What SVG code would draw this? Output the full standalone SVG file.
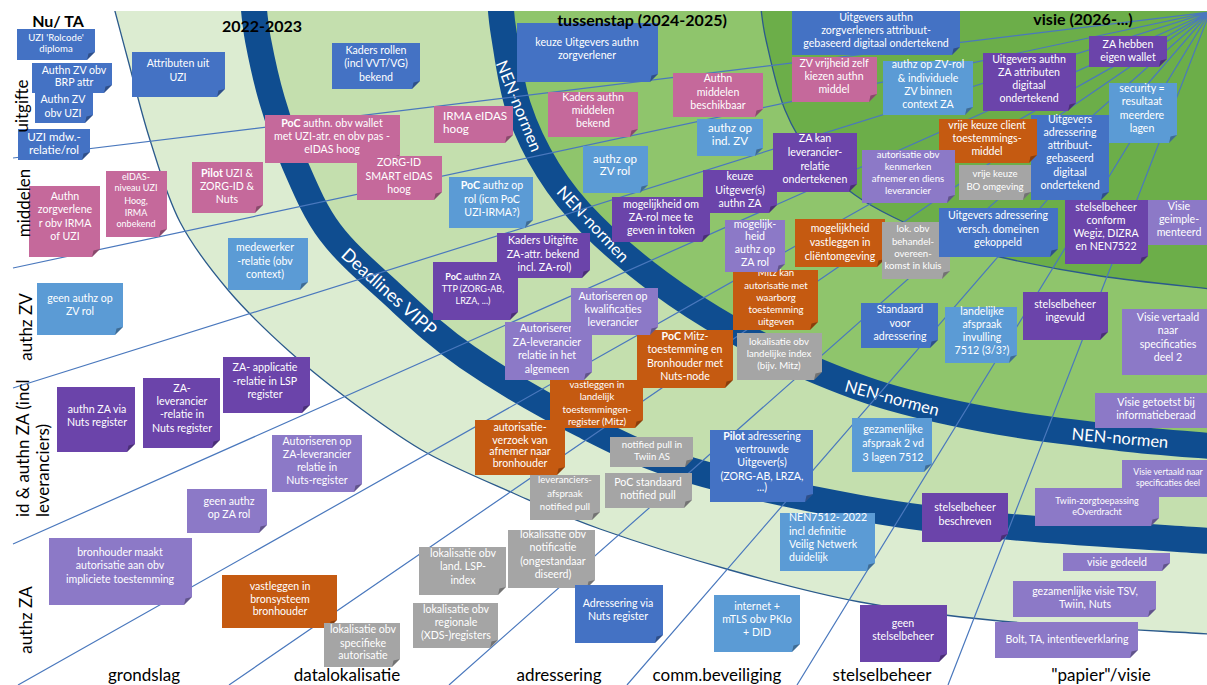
<svg xmlns="http://www.w3.org/2000/svg" width="1207" height="685" viewBox="0 0 1207 685">
<defs><style>
.t{font-family:Lato,"Liberation Sans",sans-serif;font-size:10.6px;fill:#fff;text-anchor:middle}
.sm{font-size:9.6px}.xs{font-size:9px}.lg{font-size:11.6px}
.st{text-anchor:start}
.b{font-weight:bold}
.c1{fill:#4472c4}.c2{fill:#5b9bd5}.c3{fill:#c5699b}.c4{fill:#6b44aa}.c5{fill:#8c79c7}.c6{fill:#c55a11}.c7{fill:#a5a5a5}
.fd{fill:#000;fill-opacity:.3}
.rl{fill:none;stroke:#4a78bd;stroke-width:1.2}
.band{fill:none;stroke:#0f4d90;stroke-width:26}
.edge{fill:none;stroke:#2b5a8c;stroke-width:1.3}
.lbl{font-family:Lato,"Liberation Sans",sans-serif;fill:#000}
.hd{font-weight:bold;font-size:16px;text-anchor:middle}
.ax{font-size:17px;text-anchor:middle}
.bl{font-family:Lato,"Liberation Sans",sans-serif;fill:#fff;font-size:16.5px;text-anchor:middle}
</style></defs>
<rect width="1207" height="685" fill="#fff"/>
<g id="background">
<path fill="#dcecd1" d="M112,0 C114.7,10 121.7,36.7 128,60 C134.3,83.3 141.3,113 150,140 C158.7,167 167,197 180,222 C193,247 209.7,268.3 228,290 C246.3,311.7 268,332.3 290,352 C312,371.7 337.2,391.2 360,408 C382.8,424.8 401.5,438.8 427,453 C452.5,467.2 484.2,480.3 513,493 C541.8,505.7 563.8,516.2 600,529 C636.2,541.8 686.7,557.8 730,570 C773.3,582.2 815,593.5 860,602 C905,610.5 941.7,615.7 1000,621 C1058.3,626.3 1175,631.8 1210,634 L1210,0Z"/>
<path fill="#c4dfae" d="M253,0 C253.8,6.7 254.8,23.3 258,40 C261.2,56.7 265.8,79.2 272,100 C278.2,120.8 285.3,143 295,165 C304.7,187 314.2,210.8 330,232 C345.8,253.2 367.2,271.2 390,292 C412.8,312.8 434.8,334.8 467,357 C499.2,379.2 545.8,406.2 583,425 C620.2,443.8 643.8,456.2 690,470 C736.2,483.8 808.3,498.7 860,508 C911.7,517.3 941.7,520.5 1000,526 C1058.3,531.5 1175,538.5 1210,541 L1210,0Z"/>
<path fill="#8fc56c" d="M500,0 C500.7,5.8 501,17.3 504,35 C507,52.7 510.7,83.5 518,106 C525.3,128.5 535.7,150.2 548,170 C560.3,189.8 573.3,206.2 592,225 C610.7,243.8 636.5,265.5 660,283 C683.5,300.5 708,315.8 733,330 C758,344.2 783.5,356.7 810,368 C836.5,379.3 860.3,389 892,398 C923.7,407 962,415.3 1000,422 C1038,428.7 1085,434 1120,438 C1155,442 1195,444.7 1210,446 L1210,0Z"/>
<path fill="#6cae49" d="M760,0 C761,6.7 761.8,21.7 766,40 C770.2,58.3 776.8,90 785,110 C793.2,130 803.3,145.8 815,160 C826.7,174.2 842,185.5 855,195 C868,204.5 877.2,209.2 893,217 C908.8,224.8 932.2,235.3 950,242 C967.8,248.7 975,251.3 1000,257 C1025,262.7 1065,270.7 1100,276 C1135,281.3 1191.7,286.8 1210,289 L1210,0Z"/>
<path class="edge" d="M112,0 C114.7,10 121.7,36.7 128,60 C134.3,83.3 141.3,113 150,140 C158.7,167 167,197 180,222 C193,247 209.7,268.3 228,290 C246.3,311.7 268,332.3 290,352 C312,371.7 337.2,391.2 360,408 C382.8,424.8 401.5,438.8 427,453 C452.5,467.2 484.2,480.3 513,493 C541.8,505.7 563.8,516.2 600,529 C636.2,541.8 686.7,557.8 730,570 C773.3,582.2 815,593.5 860,602 C905,610.5 941.7,615.7 1000,621 C1058.3,626.3 1175,631.8 1210,634"/>
<path class="edge" d="M760,0 C761,6.7 761.8,21.7 766,40 C770.2,58.3 776.8,90 785,110 C793.2,130 803.3,145.8 815,160 C826.7,174.2 842,185.5 855,195 C868,204.5 877.2,209.2 893,217 C908.8,224.8 932.2,235.3 950,242 C967.8,248.7 975,251.3 1000,257 C1025,262.7 1065,270.7 1100,276 C1135,281.3 1191.7,286.8 1210,289"/>
</g>
<g id="bands">
<path class="band" d="M253,0 C253.8,6.7 254.8,23.3 258,40 C261.2,56.7 265.8,79.2 272,100 C278.2,120.8 285.3,143 295,165 C304.7,187 314.2,210.8 330,232 C345.8,253.2 367.2,271.2 390,292 C412.8,312.8 434.8,334.8 467,357 C499.2,379.2 545.8,406.2 583,425 C620.2,443.8 643.8,456.2 690,470 C736.2,483.8 808.3,498.7 860,508 C911.7,517.3 941.7,520.5 1000,526 C1058.3,531.5 1175,538.5 1210,541"/>
<path class="band" d="M500,0 C500.7,5.8 501,17.3 504,35 C507,52.7 510.7,83.5 518,106 C525.3,128.5 535.7,150.2 548,170 C560.3,189.8 573.3,206.2 592,225 C610.7,243.8 636.5,265.5 660,283 C683.5,300.5 708,315.8 733,330 C758,344.2 783.5,356.7 810,368 C836.5,379.3 860.3,389 892,398 C923.7,407 962,415.3 1000,422 C1038,428.7 1085,434 1120,438 C1155,442 1195,444.7 1210,446"/>
<text class="bl" style="font-size:18px" transform="translate(389,292) rotate(42)" dy=".35em">Deadlines VIPP</text>
<text class="bl" transform="translate(519,106) rotate(68)" dy=".35em">NEN-normen</text>
<text class="bl" transform="translate(593,224) rotate(47)" dy=".35em">NEN-normen</text>
<text class="bl" transform="translate(892,398) rotate(15)" dy=".35em">NEN-normen</text>
<text class="bl" transform="translate(1120,438) rotate(5)" dy=".35em">NEN-normen</text>
</g>
<g id="connectors">
<path class="rl" d="M1210 12L13 158M1210 12L13 268M1210 12L13 388M1210 12L13 544M1210 12L18 685M1210 12L229 685M1210 12L449 685M1210 12L627 685M1210 12L797 685M1210 12L948 685"/>
</g>
<rect width="1207" height="11" fill="#fff"/>
<g id="n01"><path class="c1" d="M17 29h78v23l-8 8H17z"/><path class="fd" d="M95 52l-8 8 1.5-6.5z"/><text class="t sm"><tspan x="56" y="41">UZI 'Rolcode'</tspan><tspan x="56" y="52">diploma</tspan></text></g>
<g id="n02"><path class="c1" d="M32 63h80v22l-8 8H32z"/><path class="fd" d="M112 85l-8 8 1.5-6.5z"/><text class="t"><tspan x="74" y="74">Authn ZV obv</tspan><tspan x="74" y="86">BRP attr</tspan></text></g>
<g id="n03"><path class="c1" d="M35 92h58v23l-8 8H35z"/><path class="fd" d="M93 115l-8 8 1.5-6.5z"/><text class="t"><tspan x="63" y="103">Authn ZV</tspan><tspan x="63" y="117">obv UZI</tspan></text></g>
<g id="n04"><path class="c1" d="M18 129h72v23l-8 8H18z"/><path class="fd" d="M90 152l-8 8 1.5-6.5z"/><text class="t lg"><tspan x="54" y="141">UZI mdw.-</tspan><tspan x="54" y="154">relatie/rol</tspan></text></g>
<g id="n05"><path class="c1" d="M132 52h93v37l-8 8H132z"/><path class="fd" d="M225 89l-8 8 1.5-6.5z"/><text class="t"><tspan x="178" y="67">Attributen uit</tspan><tspan x="178" y="81">UZI</tspan></text></g>
<g id="n06"><path class="c3" d="M29 186h71v63l-8 8H29z"/><path class="fd" d="M100 249l-8 8 1.5-6.5z"/><text class="t"><tspan x="65" y="200">Authn</tspan><tspan x="65" y="213">zorgverlene</tspan><tspan x="65" y="227">r obv IRMA</tspan><tspan x="65" y="240">of UZI</tspan></text></g>
<g id="n07"><path class="c3" d="M106 171h61v58l-8 8H106z"/><path class="fd" d="M167 229l-8 8 1.5-6.5z"/><text class="t xs"><tspan x="136" y="180">eIDAS-</tspan><tspan x="136" y="191">niveau UZI</tspan><tspan x="136" y="204">Hoog,</tspan><tspan x="136" y="216">IRMA</tspan><tspan x="136" y="227">onbekend</tspan></text></g>
<g id="n08"><path class="c3" d="M192 162h71v43l-8 8H192z"/><path class="fd" d="M263 205l-8 8 1.5-6.5z"/><text class="t"><tspan x="227" y="177"><tspan class="b">Pilot</tspan> UZI &amp;</tspan><tspan x="227" y="190">ZORG-ID &amp;</tspan><tspan x="227" y="203">Nuts</tspan></text></g>
<g id="n09"><path class="c3" d="M265 115h135v40l-8 8H265z"/><path class="fd" d="M400 155l-8 8 1.5-6.5z"/><text class="t"><tspan x="332" y="127"><tspan class="b">PoC</tspan> authn. obv wallet</tspan><tspan x="332" y="140">met UZI-atr. en obv pas -</tspan><tspan x="332" y="153">eIDAS hoog</tspan></text></g>
<g id="n10"><path class="c1" d="M332 43h88v38l-8 8H332z"/><path class="fd" d="M420 81l-8 8 1.5-6.5z"/><text class="t"><tspan x="376" y="54">Kaders rollen</tspan><tspan x="376" y="67">(incl VVT/VG)</tspan><tspan x="376" y="81">bekend</tspan></text></g>
<g id="n11"><path class="c3" d="M434 106h79v29l-8 8H434z"/><path class="fd" d="M513 135l-8 8 1.5-6.5z"/><text class="t st" style="font-size:11.7px"><tspan x="443" y="120">IRMA eIDAS</tspan><tspan x="443" y="133">hoog</tspan></text></g>
<g id="n12"><path class="c3" d="M357 156h85v36l-8 8H357z"/><path class="fd" d="M442 192l-8 8 1.5-6.5z"/><text class="t"><tspan x="399" y="166">ZORG-ID</tspan><tspan x="399" y="180">SMART eIDAS</tspan><tspan x="399" y="193">hoog</tspan></text></g>
<g id="n13"><path class="c2" d="M449 177h84v43l-8 8H449z"/><path class="fd" d="M533 220l-8 8 1.5-6.5z"/><text class="t"><tspan x="492" y="189"><tspan class="b">PoC</tspan> authz op</tspan><tspan x="492" y="203">rol (icm PoC</tspan><tspan x="492" y="216">UZI-IRMA?)</tspan></text></g>
<g id="n14"><path class="c1" d="M517 23h141v51l-8 8H517z"/><path class="fd" d="M658 74l-8 8 1.5-6.5z"/><text class="t"><tspan x="587" y="46">keuze Uitgevers authn</tspan><tspan x="587" y="59">zorgverlener</tspan></text></g>
<g id="n15"><path class="c3" d="M548 92h90v37l-8 8H548z"/><path class="fd" d="M638 129l-8 8 1.5-6.5z"/><text class="t"><tspan x="593" y="101">Kaders authn</tspan><tspan x="593" y="114">middelen</tspan><tspan x="593" y="127">bekend</tspan></text></g>
<g id="n16"><path class="c2" d="M583 146h65v39l-8 8H583z"/><path class="fd" d="M648 185l-8 8 1.5-6.5z"/><text class="t lg"><tspan x="615" y="163">authz op</tspan><tspan x="615" y="175">ZV rol</tspan></text></g>
<g id="n17"><path class="c3" d="M673 73h90v36l-8 8H673z"/><path class="fd" d="M763 109l-8 8 1.5-6.5z"/><text class="t"><tspan x="718" y="82">Authn</tspan><tspan x="718" y="96">middelen</tspan><tspan x="718" y="109">beschikbaar</tspan></text></g>
<g id="n18"><path class="c2" d="M697 119h66v29l-8 8H697z"/><path class="fd" d="M763 148l-8 8 1.5-6.5z"/><text class="t lg"><tspan x="730" y="132">authz op</tspan><tspan x="730" y="145">ind. ZV</tspan></text></g>
<g id="n19"><path class="c3" d="M792 57h85v37l-8 8H792z"/><path class="fd" d="M877 94l-8 8 1.5-6.5z"/><text class="t"><tspan x="834" y="67">ZV vrijheid zelf</tspan><tspan x="834" y="80">kiezen authn</tspan><tspan x="834" y="93">middel</tspan></text></g>
<g id="n20"><path class="c1" d="M792 11h168v36l-8 8H792z"/><path class="fd" d="M960 47l-8 8 1.5-6.5z"/><text class="t"><tspan x="876" y="21">Uitgevers authn</tspan><tspan x="876" y="34">zorgverleners attribuut-</tspan><tspan x="876" y="47">gebaseerd digitaal ondertekend</tspan></text></g>
<g id="n21"><path class="c4" d="M773 133h84v51l-8 8H773z"/><path class="fd" d="M857 184l-8 8 1.5-6.5z"/><text class="t"><tspan x="815" y="142">ZA kan</tspan><tspan x="815" y="156">leverancier-</tspan><tspan x="815" y="170">relatie</tspan><tspan x="815" y="183">ondertekenen</tspan></text></g>
<g id="n22"><path class="c4" d="M703 170h74v35l-8 8H703z"/><path class="fd" d="M777 205l-8 8 1.5-6.5z"/><text class="t"><tspan x="740" y="180">keuze</tspan><tspan x="740" y="194">Uitgever(s)</tspan><tspan x="740" y="207">authn ZA</tspan></text></g>
<g id="n23"><path class="c4" d="M612 197h98v37l-8 8H612z"/><path class="fd" d="M710 234l-8 8 1.5-6.5z"/><text class="t"><tspan x="661" y="208">mogelijkheid om</tspan><tspan x="661" y="221">ZA-rol mee te</tspan><tspan x="661" y="234">geven in token</tspan></text></g>
<g id="n26"><path class="c6" d="M733 270h85v52l-8 8H733z"/><path class="fd" d="M818 322l-8 8 1.5-6.5z"/><text class="t sm"><tspan x="776" y="276">Mitz kan</tspan><tspan x="776" y="289">autorisatie met</tspan><tspan x="776" y="301">waarborg</tspan><tspan x="776" y="313">toestemming</tspan><tspan x="776" y="325">uitgeven</tspan></text></g>
<g id="n24"><path class="c5" d="M725 220h60v44l-8 8H725z"/><path class="fd" d="M785 264l-8 8 1.5-6.5z"/><text class="t"><tspan x="755" y="228">mogelijk-</tspan><tspan x="755" y="240">heid</tspan><tspan x="755" y="253">authz op</tspan><tspan x="755" y="266">ZA rol</tspan></text></g>
<g id="n25"><path class="c6" d="M795 219h90v40l-8 8H795z"/><path class="fd" d="M885 259l-8 8 1.5-6.5z"/><text class="t"><tspan x="840" y="232">mogelijkheid</tspan><tspan x="840" y="246">vastleggen in</tspan><tspan x="840" y="260">cliëntomgeving</tspan></text></g>
<g id="n27"><path class="c6" d="M637 330h96v50l-8 8H637z"/><path class="fd" d="M733 380l-8 8 1.5-6.5z"/><text class="t"><tspan x="685" y="340"><tspan class="b">PoC</tspan> Mitz-</tspan><tspan x="685" y="353">toestemming en</tspan><tspan x="685" y="367">Bronhouder met</tspan><tspan x="685" y="380">Nuts-node</tspan></text></g>
<g id="n28"><path class="c7" d="M737 333h85v39l-8 8H737z"/><path class="fd" d="M822 372l-8 8 1.5-6.5z"/><text class="t sm"><tspan x="779" y="345">lokalisatie obv</tspan><tspan x="779" y="357">landelijke index</tspan><tspan x="779" y="369">(bijv. Mitz)</tspan></text></g>
<g id="n29"><path class="c7" d="M882 222h68v49l-8 8H882z"/><path class="fd" d="M950 271l-8 8 1.5-6.5z"/><text class="t sm"><tspan x="913" y="232">lok. obv</tspan><tspan x="913" y="245">behandel-</tspan><tspan x="913" y="257">overeen-</tspan><tspan x="913" y="269">komst in kluis</tspan></text></g>
<g id="n30"><path class="c4" d="M1089 36h78v23l-8 8H1089z"/><path class="fd" d="M1167 59l-8 8 1.5-6.5z"/><text class="t"><tspan x="1128" y="48">ZA hebben</tspan><tspan x="1128" y="61">eigen wallet</tspan></text></g>
<g id="n31"><path class="c2" d="M883 61h90v46l-8 8H883z"/><path class="fd" d="M973 107l-8 8 1.5-6.5z"/><text class="t"><tspan x="928" y="68">authz op ZV-rol</tspan><tspan x="928" y="82">&amp; individuele</tspan><tspan x="928" y="95">ZV binnen</tspan><tspan x="928" y="108">context ZA</tspan></text></g>
<g id="n32"><path class="c4" d="M983 53h93v50l-8 8H983z"/><path class="fd" d="M1076 103l-8 8 1.5-6.5z"/><text class="t"><tspan x="1029" y="63">Uitgevers authn</tspan><tspan x="1029" y="76">ZA attributen</tspan><tspan x="1029" y="89">digitaal</tspan><tspan x="1029" y="102">ondertekend</tspan></text></g>
<g id="n33"><path class="c2" d="M1109 83h68v52l-8 8H1109z"/><path class="fd" d="M1177 135l-8 8 1.5-6.5z"/><text class="t"><tspan x="1142" y="92">security =</tspan><tspan x="1142" y="105">resultaat</tspan><tspan x="1142" y="119">meerdere</tspan><tspan x="1142" y="132">lagen</tspan></text></g>
<g id="n36"><path class="c1" d="M1031 115h78v77l-8 8H1031z"/><path class="fd" d="M1109 192l-8 8 1.5-6.5z"/><text class="t"><tspan x="1070" y="123">Uitgevers</tspan><tspan x="1070" y="136">adressering</tspan><tspan x="1070" y="149">attribuut-</tspan><tspan x="1070" y="162">gebaseerd</tspan><tspan x="1070" y="176">digitaal</tspan><tspan x="1070" y="189">ondertekend</tspan></text></g>
<g id="n34"><path class="c6" d="M939 119h98v36l-8 8H939z"/><path class="fd" d="M1037 155l-8 8 1.5-6.5z"/><text class="t"><tspan x="987" y="129">vrije keuze client</tspan><tspan x="987" y="142">toestemmings-</tspan><tspan x="987" y="155">middel</tspan></text></g>
<g id="n35"><path class="c7" d="M959 165h72v27l-8 8H959z"/><path class="fd" d="M1031 192l-8 8 1.5-6.5z"/><text class="t sm"><tspan x="995" y="177">vrije keuze</tspan><tspan x="995" y="190">BO omgeving</tspan></text></g>
<g id="n37"><path class="c5" d="M862 150h93v45l-8 8H862z"/><path class="fd" d="M955 195l-8 8 1.5-6.5z"/><text class="t sm"><tspan x="908" y="158">autorisatie obv</tspan><tspan x="908" y="170">kenmerken</tspan><tspan x="908" y="182">afnemer en diens</tspan><tspan x="908" y="194">leverancier</tspan></text></g>
<g id="n38"><path class="c1" d="M939 208h119v41l-8 8H939z"/><path class="fd" d="M1058 249l-8 8 1.5-6.5z"/><text class="t"><tspan x="998" y="219">Uitgevers adressering</tspan><tspan x="998" y="233">versch. domeinen</tspan><tspan x="998" y="246">gekoppeld</tspan></text></g>
<g id="n39"><path class="c4" d="M1065 200h83v56l-8 8H1065z"/><path class="fd" d="M1148 256l-8 8 1.5-6.5z"/><text class="t"><tspan x="1106" y="211">stelselbeheer</tspan><tspan x="1106" y="224">conform</tspan><tspan x="1106" y="237">Wegiz, DIZRA</tspan><tspan x="1106" y="250">en NEN7522</tspan></text></g>
<g id="n40"><path class="c5" d="M1148 200h70v37l-8 8H1148z"/><text class="t"><tspan x="1179" y="210">Visie</tspan><tspan x="1179" y="223">geimple-</tspan><tspan x="1179" y="236">menteerd</tspan></text></g>
<g id="n41"><path class="c2" d="M228 238h80v44l-8 8H228z"/><path class="fd" d="M308 282l-8 8 1.5-6.5z"/><text class="t"><tspan x="265" y="251">medewerker</tspan><tspan x="265" y="265">-relatie (obv</tspan><tspan x="265" y="278">context)</tspan></text></g>
<g id="n42"><path class="c2" d="M37 283h86v44l-8 8H37z"/><path class="fd" d="M123 327l-8 8 1.5-6.5z"/><text class="t"><tspan x="80" y="302">geen authz op</tspan><tspan x="80" y="315">ZV rol</tspan></text></g>
<g id="n43"><path class="c4" d="M223 357h87v48l-8 8H223z"/><path class="fd" d="M310 405l-8 8 1.5-6.5z"/><text class="t"><tspan x="265" y="371">ZA- applicatie</tspan><tspan x="265" y="385">-relatie in LSP</tspan><tspan x="265" y="398">register</tspan></text></g>
<g id="n44"><path class="c4" d="M57 387h78v57l-8 8H57z"/><path class="fd" d="M135 444l-8 8 1.5-6.5z"/><text class="t"><tspan x="97" y="413">authn ZA via</tspan><tspan x="97" y="426">Nuts register</tspan></text></g>
<g id="n45"><path class="c4" d="M143 378h77v62l-8 8H143z"/><path class="fd" d="M220 440l-8 8 1.5-6.5z"/><text class="t"><tspan x="182" y="392">ZA-</tspan><tspan x="182" y="405">leverancier</tspan><tspan x="182" y="418">-relatie in</tspan><tspan x="182" y="432">Nuts register</tspan></text></g>
<g id="n46"><path class="c5" d="M272 435h90v49l-8 8H272z"/><path class="fd" d="M362 484l-8 8 1.5-6.5z"/><text class="t"><tspan x="317" y="445">Autoriseren op</tspan><tspan x="317" y="458">ZA-leverancier</tspan><tspan x="317" y="471">relatie in</tspan><tspan x="317" y="484">Nuts-register</tspan></text></g>
<g id="n47"><path class="c5" d="M187 489h80v36l-8 8H187z"/><path class="fd" d="M267 525l-8 8 1.5-6.5z"/><text class="t"><tspan x="229" y="505">geen authz</tspan><tspan x="229" y="518">op ZA rol</tspan></text></g>
<g id="n48"><path class="c5" d="M49 538h143v59l-8 8H49z"/><path class="fd" d="M192 597l-8 8 1.5-6.5z"/><text class="t"><tspan x="120" y="556">bronhouder maakt</tspan><tspan x="120" y="569">autorisatie aan obv</tspan><tspan x="120" y="583">impliciete toestemming</tspan></text></g>
<g id="n49"><path class="c6" d="M222 575h115v45l-8 8H222z"/><path class="fd" d="M337 620l-8 8 1.5-6.5z"/><text class="t"><tspan x="280" y="590">vastleggen in</tspan><tspan x="280" y="603">bronsysteem</tspan><tspan x="280" y="615">bronhouder</tspan></text></g>
<g id="n50"><path class="c4" d="M497 233h93v37l-8 8H497z"/><path class="fd" d="M590 270l-8 8 1.5-6.5z"/><text class="t"><tspan x="543" y="244">Kaders Uitgifte</tspan><tspan x="543" y="258">ZA-attr. bekend</tspan><tspan x="543" y="271">(incl. ZA-rol)</tspan></text></g>
<g id="n51"><path class="c4" d="M433 262h85v50l-8 8H433z"/><path class="fd" d="M518 312l-8 8 1.5-6.5z"/><text class="t xs"><tspan x="473" y="280"><tspan class="b">PoC</tspan> authn ZA</tspan><tspan x="473" y="292">TTP (ZORG-AB,</tspan><tspan x="473" y="304">LRZA, ...)</tspan></text></g>
<g id="n53"><path class="c5" d="M505 322h87v50l-8 8H505z"/><path class="fd" d="M592 372l-8 8 1.5-6.5z"/><text class="t"><tspan x="547" y="332">Autoriseren</tspan><tspan x="547" y="346">ZA-leverancier</tspan><tspan x="547" y="359">relatie in het</tspan><tspan x="547" y="373">algemeen</tspan></text></g>
<g id="n52"><path class="c5" d="M571 288h87v39l-8 8H571z"/><path class="fd" d="M658 327l-8 8 1.5-6.5z"/><text class="t"><tspan x="613" y="300">Autoriseren op</tspan><tspan x="613" y="313">kwalificaties</tspan><tspan x="613" y="326">leverancier</tspan></text></g>
<g id="n55"><path class="c6" d="M475 420h90v47l-8 8H475z"/><path class="fd" d="M565 467l-8 8 1.5-6.5z"/><text class="t"><tspan x="520" y="431">autorisatie-</tspan><tspan x="520" y="444">verzoek van</tspan><tspan x="520" y="455">afnemer naar</tspan><tspan x="520" y="467">bronhouder</tspan></text></g>
<g id="n54"><path class="c6" d="M550 380h93v40l-8 8H550z"/><path class="fd" d="M643 420l-8 8 1.5-6.5z"/><text class="t sm"><tspan x="597" y="388">vastleggen in</tspan><tspan x="597" y="400">landelijk</tspan><tspan x="597" y="413">toestemmingen-</tspan><tspan x="597" y="425">register (Mitz)</tspan></text></g>
<g id="n56"><path class="c7" d="M610 437h83v22l-8 8H610z"/><path class="fd" d="M693 459l-8 8 1.5-6.5z"/><text class="t sm"><tspan x="652" y="448">notified pull in</tspan><tspan x="652" y="460">Twiin AS</tspan></text></g>
<g id="n57"><path class="c7" d="M605 473h87v27l-8 8H605z"/><path class="fd" d="M692 500l-8 8 1.5-6.5z"/><text class="t"><tspan x="648" y="486">PoC standaard</tspan><tspan x="648" y="499">notified pull</tspan></text></g>
<g id="n58"><path class="c1" d="M710 430h103v64l-8 8H710z"/><path class="fd" d="M813 494l-8 8 1.5-6.5z"/><text class="t"><tspan x="762" y="440"><tspan class="b">Pilot</tspan> adressering</tspan><tspan x="762" y="453">vertrouwde</tspan><tspan x="762" y="466">Uitgever(s)</tspan><tspan x="762" y="480">(ZORG-AB, LRZA,</tspan><tspan x="762" y="491">...)</tspan></text></g>
<g id="n59"><path class="c7" d="M530 475h70v37l-8 8H530z"/><path class="fd" d="M600 512l-8 8 1.5-6.5z"/><text class="t sm"><tspan x="565" y="483">leveranciers-</tspan><tspan x="565" y="497">afspraak</tspan><tspan x="565" y="510">notified pull</tspan></text></g>
<g id="n60"><path class="c7" d="M508 530h87v50l-8 8H508z"/><path class="fd" d="M595 580l-8 8 1.5-6.5z"/><text class="t"><tspan x="553" y="538">lokalisatie obv</tspan><tspan x="553" y="551">notificatie</tspan><tspan x="553" y="565">(ongestandaar</tspan><tspan x="553" y="578">diseerd)</tspan></text></g>
<g id="n61"><path class="c7" d="M419 547h87v40l-8 8H419z"/><path class="fd" d="M506 587l-8 8 1.5-6.5z"/><text class="t"><tspan x="463" y="557">lokalisatie obv</tspan><tspan x="463" y="570">land. LSP-</tspan><tspan x="463" y="584">index</tspan></text></g>
<g id="n62"><path class="c7" d="M413 603h85v37l-8 8H413z"/><path class="fd" d="M498 640l-8 8 1.5-6.5z"/><text class="t"><tspan x="456" y="613">lokalisatie obv</tspan><tspan x="456" y="626">regionale</tspan><tspan x="456" y="639">(XDS-)registers</tspan></text></g>
<g id="n63"><path class="c7" d="M324 623h76v36l-8 8H324z"/><path class="fd" d="M400 659l-8 8 1.5-6.5z"/><text class="t"><tspan x="363" y="633">lokalisatie obv</tspan><tspan x="363" y="647">specifieke</tspan><tspan x="363" y="659">autorisatie</tspan></text></g>
<g id="n64"><path class="c1" d="M575 585h88v50l-8 8H575z"/><path class="fd" d="M663 635l-8 8 1.5-6.5z"/><text class="t"><tspan x="618" y="607">Adressering via</tspan><tspan x="618" y="620">Nuts register</tspan></text></g>
<g id="n65"><path class="c2" d="M780 513h95v50l-8 8H780z"/><path class="fd" d="M875 563l-8 8 1.5-6.5z"/><text class="t st"><tspan x="789" y="521">NEN7512- 2022</tspan><tspan x="789" y="535">incl definitie</tspan><tspan x="789" y="548">Veilig Netwerk</tspan><tspan x="789" y="561">duidelijk</tspan></text></g>
<g id="n66"><path class="c2" d="M714 595h86v49l-8 8H714z"/><path class="fd" d="M800 644l-8 8 1.5-6.5z"/><text class="t"><tspan x="757" y="610">internet +</tspan><tspan x="757" y="623">mTLS obv PKIo</tspan><tspan x="757" y="636">+ DID</tspan></text></g>
<g id="n67"><path class="c4" d="M860 605h87v49l-8 8H860z"/><path class="fd" d="M947 654l-8 8 1.5-6.5z"/><text class="t"><tspan x="903" y="627">geen</tspan><tspan x="903" y="640">stelselbeheer</tspan></text></g>
<g id="n68"><path class="c1" d="M861 303h77v37l-8 8H861z"/><path class="fd" d="M938 340l-8 8 1.5-6.5z"/><text class="t"><tspan x="900" y="313">Standaard</tspan><tspan x="900" y="327">voor</tspan><tspan x="900" y="340">adressering</tspan></text></g>
<g id="n69"><path class="c2" d="M945 307h72v48l-8 8H945z"/><path class="fd" d="M1017 355l-8 8 1.5-6.5z"/><text class="t"><tspan x="982" y="315">landelijke</tspan><tspan x="982" y="328">afspraak</tspan><tspan x="982" y="341">invulling</tspan><tspan x="982" y="354">7512 (3/3?)</tspan></text></g>
<g id="n70"><path class="c4" d="M1023 292h85v40l-8 8H1023z"/><path class="fd" d="M1108 332l-8 8 1.5-6.5z"/><text class="t"><tspan x="1065" y="308">stelselbeheer</tspan><tspan x="1065" y="321">ingevuld</tspan></text></g>
<g id="n71"><path class="c5" d="M1122 309h92v58l-8 8H1122z"/><text class="t"><tspan x="1168" y="321">Visie vertaald</tspan><tspan x="1168" y="334">naar</tspan><tspan x="1168" y="348">specificaties</tspan><tspan x="1168" y="361">deel 2</tspan></text></g>
<g id="n72"><path class="c5" d="M1095 393h122v27l-8 8H1095z"/><text class="t"><tspan x="1156" y="406">Visie getoetst bij</tspan><tspan x="1156" y="419">informatieberaad</tspan></text></g>
<g id="n73"><path class="c2" d="M852 418h80v46l-8 8H852z"/><path class="fd" d="M932 464l-8 8 1.5-6.5z"/><text class="t"><tspan x="893" y="433">gezamenlijke</tspan><tspan x="893" y="447">afspraak 2 vd</tspan><tspan x="893" y="461">3 lagen 7512</tspan></text></g>
<g id="n74"><path class="c4" d="M922 493h86v41l-8 8H922z"/><path class="fd" d="M1008 534l-8 8 1.5-6.5z"/><text class="t"><tspan x="965" y="511">stelselbeheer</tspan><tspan x="965" y="525">beschreven</tspan></text></g>
<g id="n75"><path class="c5" d="M1122 460h100v29l-8 8H1122z"/><text class="t" style="font-size:8.6px"><tspan x="1168" y="475">Visie vertaald naar</tspan><tspan x="1168" y="486">specificaties deel</tspan></text></g>
<g id="n76"><path class="c5" d="M1035 488h124v30l-8 8H1035z"/><path class="fd" d="M1159 518l-8 8 1.5-6.5z"/><text class="t xs"><tspan x="1097" y="504">Twiin-zorgtoepassing</tspan><tspan x="1097" y="515">eOverdracht</tspan></text></g>
<g id="n77"><path class="c5" d="M1063 553h107v10l-8 8H1063z"/><path class="fd" d="M1170 563l-8 8 1.5-6.5z"/><text class="t"><tspan x="1117" y="566">visie gedeeld</tspan></text></g>
<g id="n78"><path class="c5" d="M1013 581h143v28l-8 8H1013z"/><path class="fd" d="M1156 609l-8 8 1.5-6.5z"/><text class="t"><tspan x="1085" y="595">gezamenlijke visie TSV,</tspan><tspan x="1085" y="608">Twiin, Nuts</tspan></text></g>
<g id="n79"><path class="c5" d="M995 622h143v28l-8 8H995z"/><path class="fd" d="M1138 650l-8 8 1.5-6.5z"/><text class="t"><tspan x="1067" y="643">Bolt, TA, intentieverklaring</tspan></text></g>
<g id="labels" class="lbl">
<text class="hd" x="58" y="27">Nu/ TA</text>
<text class="hd" x="262" y="32">2022-2023</text>
<text class="hd" x="642" y="26">tussenstap (2024-2025)</text>
<text class="hd" x="1083" y="25">visie (2026-...)</text>
<text class="ax" x="144" y="681">grondslag</text>
<text class="ax" x="347" y="681">datalokalisatie</text>
<text class="ax" x="559" y="681">adressering</text>
<text class="ax" x="717" y="681">comm.beveiliging</text>
<text class="ax" x="882" y="681">stelselbeheer</text>
<text class="ax" x="1101" y="681">"papier"/visie</text>
<text class="ax" transform="translate(28,106) rotate(-90)">uitgifte</text>
<text class="ax" transform="translate(30,203) rotate(-90)">middelen</text>
<text class="ax" transform="translate(32,327) rotate(-90)">authz ZV</text>
<text style="font-size:17px" transform="translate(29,517) rotate(-90)">id &amp; authn ZA (incl</text>
<text style="font-size:17px" transform="translate(49,517) rotate(-90)">leveranciers)</text>
<text class="ax" transform="translate(32,620) rotate(-90)">authz ZA</text>
</g>
</svg>
